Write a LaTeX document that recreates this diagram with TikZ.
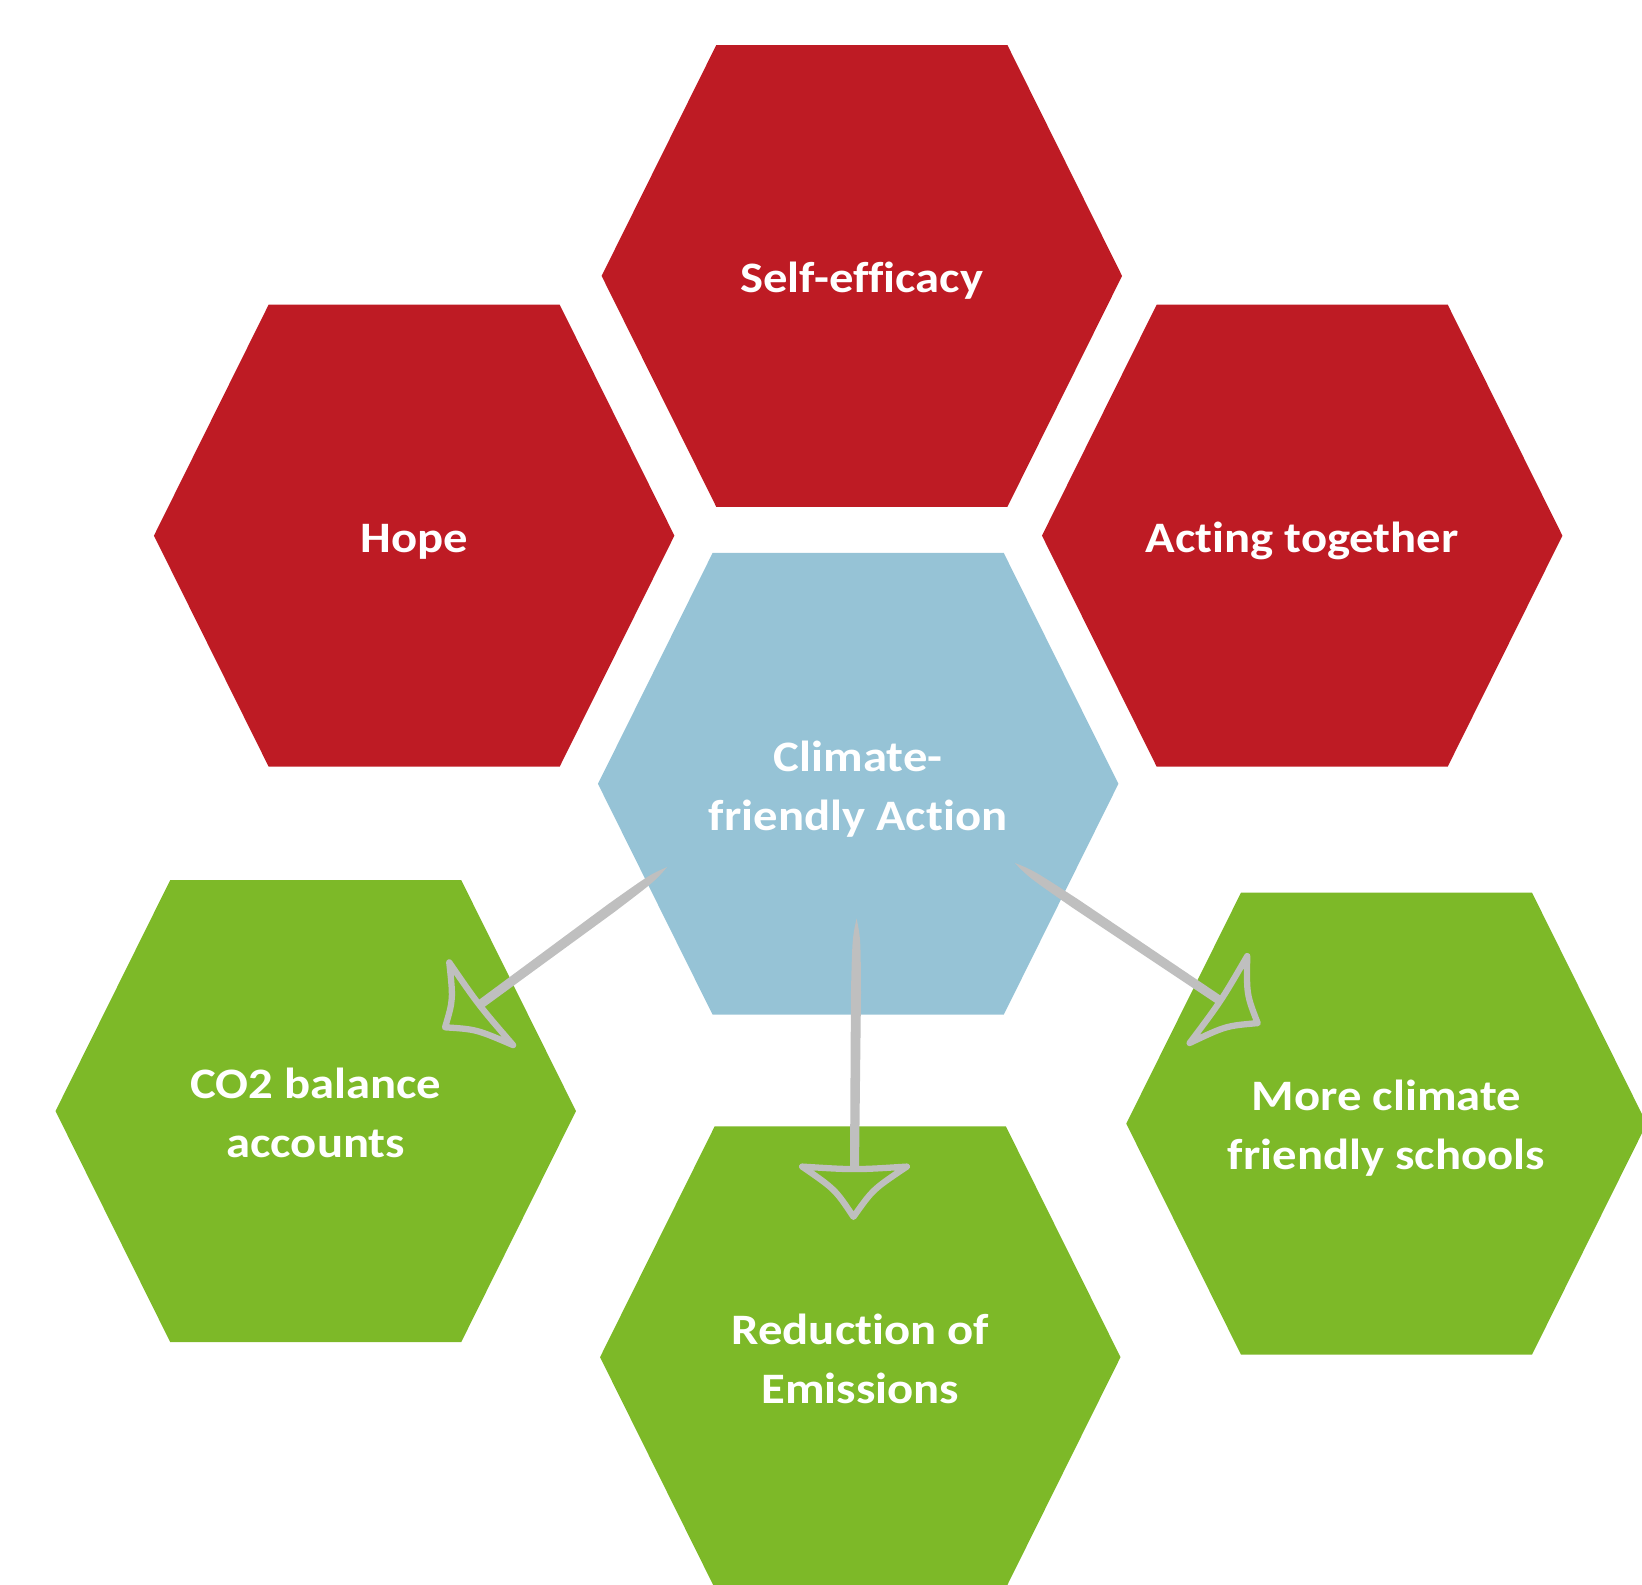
\documentclass[tikz,border=0pt]{standalone}
\usepackage{fontspec}
\setmainfont{Carlito}[FakeStretch=1.12,Ligatures=NoCommon]
\usetikzlibrary{calc}
\definecolor{hexred}{HTML}{BE1B24}
\definecolor{hexblue}{HTML}{96C3D6}
\definecolor{hexgreen}{HTML}{7DB928}
\definecolor{arrgray}{HTML}{BFBFBF}
\begin{document}
\begin{tikzpicture}[x=1pt,y=-1pt,
  hexcell/.pic={\fill[pic actions] (-139,-220.5) -- (139,-220.5) -- (248.5,0) -- (139,220.5) -- (-139,220.5) -- (-248.5,0) -- cycle;},
  hexlabel/.style={text=white,font=\fontsize{41.5}{56}\selectfont\bfseries,align=center,
    inner sep=0pt,text height=26.7pt,text depth=0pt,yshift=-2.5pt},
  twolines/.style={text height=82.7pt},
  shaft/.style={fill=arrgray},
  headline/.style={draw=arrgray,line width=6pt,line join=round,line cap=round},
]
\useasboundingbox (0,0) rectangle (1568,1513);
% hexagons
\pic[fill=hexred]   at (823,263.5)   {hexcell};
\pic[fill=hexred]   at (395.5,511.5) {hexcell};
\pic[fill=hexred]   at (1243.5,511.5){hexcell};
\pic[fill=hexblue]  at (819.5,748.5) {hexcell};
\pic[fill=hexgreen] at (301.5,1061)  {hexcell};
\pic[fill=hexgreen] at (821.5,1296)  {hexcell};
\pic[fill=hexgreen] at (1324,1073)   {hexcell};
% labels
\node[hexlabel] (selfeff) at (823,263.5) {Self-efficacy};
\node[hexlabel] (hope) at (395.5,511.5) {Hope};
\node[hexlabel] (acting) at (1243.5,511.5) {Acting together};
\node[hexlabel,twolines] (action) at (819.5,749) {Climate-\\friendly Action};
\node[hexlabel,twolines] (co2) at (301.5,1061) {CO2 balance\\accounts};
\node[hexlabel,twolines] (reduction) at (821.5,1296) {Reduction of\\Emissions};
\node[hexlabel,twolines] (schools) at (1324,1073) {More climate\\friendly schools};
% arrow coordinates
\coordinate (t1) at (637,828);  \coordinate (b1) at (459.5,958.5);
\coordinate (p1) at (425,981);  \coordinate (l1) at (429,919); \coordinate (r1) at (490,998);
\coordinate (t2) at (818,877);  \coordinate (b2) at (816,1114);
\coordinate (p2) at (815,1162); \coordinate (l2) at (766,1114); \coordinate (r2) at (866,1114);
\coordinate (t3) at (969,824);  \coordinate (b3) at (1163.5,954.5);
\coordinate (p3) at (1201,977); \coordinate (l3) at (1191,913); \coordinate (r3) at (1136,996);
% arrows
\foreach \i in {1,2,3}{
  \fill[shaft] (t\i) .. controls ($(t\i)!0.08!(b\i)!4pt!90:(b\i)$) .. ($(t\i)!0.3!(b\i)!4.8pt!90:(b\i)$)
     -- ($(b\i)!4.3pt!-90:(t\i)$) -- ($(b\i)!4.3pt!90:(t\i)$)
     -- ($(t\i)!0.3!(b\i)!4.8pt!-90:(b\i)$) .. controls ($(t\i)!0.08!(b\i)!4pt!-90:(b\i)$) .. (t\i) -- cycle;
  \coordinate (c\i) at ($1/3*(p\i)+1/3*(l\i)+1/3*(r\i)$);
  \draw[headline] (l\i) .. controls ($(l\i)!0.5!(p\i)!0.28!(c\i)$) .. (p\i)
     .. controls ($(p\i)!0.5!(r\i)!0.28!(c\i)$) .. (r\i)
     .. controls ($(r\i)!0.5!(l\i)!0.2!(c\i)$) .. (l\i) -- cycle;
}
\end{tikzpicture}
\end{document}
